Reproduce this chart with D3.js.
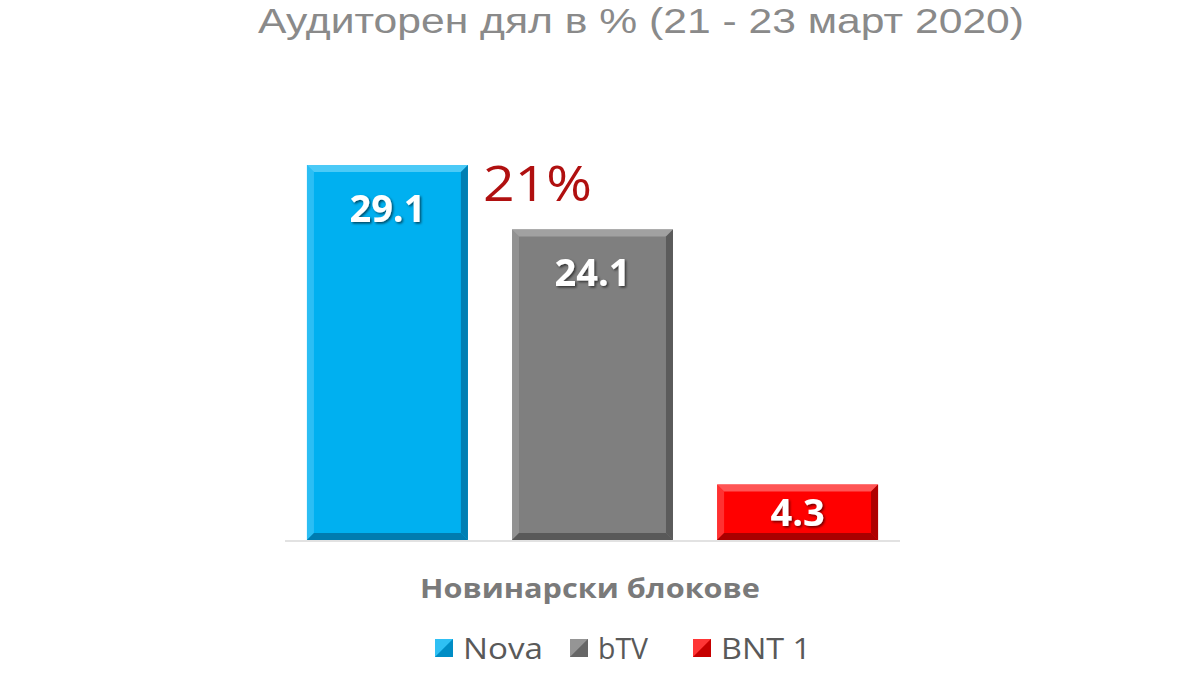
<!DOCTYPE html>
<html><head><meta charset="utf-8">
<script src="https://cdn.jsdelivr.net/npm/d3@7"></script>
<style>html,body{margin:0;padding:0;background:#fff;}svg{display:block;}</style>
</head><body>
<svg id="c" width="1200" height="675"></svg>
<script>
const categories = ["Nova", "bTV", "BNT 1"];
const values = [29.1, 24.1, 4.3];
const valueLabels = ["29.1", "24.1", "4.3"];
const colors = ["#00b0f0", "#7f7f7f", "#ff0000"];
const lightColors = ["#4fcbf7", "#a3a3a3", "#ff5a5a"];
const darkColors = ["#0077a8", "#555555", "#a00000"];
const title = "Аудиторен дял в % (21 - 23 март 2020)";
const categoryLabel = "Новинарски  блокове";
const note = "21%";

const svg = d3.select("#c");
const baseY = 540;
const x = d3.scaleBand().domain(categories).range([285, 900]).paddingInner(0.215).paddingOuter(0.107);
const y = d3.scaleLinear().domain([0, 29.1]).range([baseY, 165]);

svg.append("text").attr("x", 641).attr("y", 33).attr("text-anchor", "middle")
  .attr("font-family", "Liberation Sans").attr("font-size", 35).attr("fill", "#8a8a8a")
  .attr("textLength", 766).attr("lengthAdjust", "spacingAndGlyphs").text(title);

svg.append("line").attr("x1", 285).attr("x2", 900).attr("y1", baseY + 1).attr("y2", baseY + 1)
  .attr("stroke", "#d9d9d9").attr("stroke-width", 1.5);

const defs = svg.append("defs");
const f = defs.append("filter").attr("id", "sh").attr("x", "-20%").attr("y", "-20%").attr("width", "140%").attr("height", "140%");
f.append("feDropShadow").attr("dx", 1.5).attr("dy", 1.5).attr("stdDeviation", 1).attr("flood-color", "#000").attr("flood-opacity", 0.6);

const b = 7;
categories.forEach((c, i) => {
  const x0 = x(c), w = x.bandwidth(), y0 = y(values[i]), h = baseY - y0;
  const g = svg.append("g");
  g.append("rect").attr("x", x0).attr("y", y0).attr("width", w).attr("height", h).attr("fill", colors[i]);
  const x1 = x0 + w, y1 = baseY;
  const poly = (pts, fill, op) => g.append("polygon").attr("points", pts.map(p => p.join(",")).join(" ")).attr("fill", fill).attr("opacity", op);
  poly([[x0, y0], [x1, y0], [x1 - b, y0 + b], [x0 + b, y0 + b]], lightColors[i], 0.95);
  poly([[x0, y0], [x0 + b, y0 + b], [x0 + b, y1 - b], [x0, y1]], lightColors[i], 0.55);
  poly([[x1, y0], [x1, y1], [x1 - b, y1 - b], [x1 - b, y0 + b]], darkColors[i], 0.85);
  poly([[x0, y1], [x1, y1], [x1 - b, y1 - b], [x0 + b, y1 - b]], darkColors[i], 0.9);
  const ly = Math.min(y0 + 57, (y0 + y1) / 2 + 14);
  g.append("text").attr("x", x0 + w / 2).attr("y", ly).attr("text-anchor", "middle")
    .attr("font-family", "Open Sans").attr("font-weight", "bold").attr("font-size", 38)
    .attr("fill", "#ffffff").attr("filter", "url(#sh)").text(valueLabels[i]);
});

svg.append("text").attr("x", 483).attr("y", 201).attr("font-family", "Open Sans")
  .attr("font-size", 50).attr("fill", "#b01010").attr("textLength", 109).attr("lengthAdjust", "spacingAndGlyphs").text(note);

svg.append("text").attr("x", 590).attr("y", 598).attr("text-anchor", "middle")
  .attr("font-family", "Open Sans").attr("font-weight", "bold").attr("font-size", 27)
  .attr("fill", "#7a7a7a").attr("textLength", 340).attr("lengthAdjust", "spacingAndGlyphs").text(categoryLabel);

const legX = [435, 570, 693];
const legW = [80, 50, 90];
categories.forEach((c, i) => {
  const lg = svg.append("g").attr("transform", `translate(${legX[i]},648)`);
  lg.append("rect").attr("x", 0).attr("y", -9).attr("width", 18).attr("height", 18).attr("fill", colors[i]);
  lg.append("polygon").attr("points", "0,-9 18,-9 0,9").attr("fill", lightColors[i]).attr("opacity", 0.6);
  lg.append("polygon").attr("points", "18,-9 18,9 0,9").attr("fill", darkColors[i]).attr("opacity", 0.6);
  lg.append("text").attr("x", 28).attr("y", 11).attr("font-family", "Open Sans").attr("font-size", 30)
    .attr("fill", "#595959").attr("textLength", legW[i]).attr("lengthAdjust", "spacingAndGlyphs").text(c);
});
</script>
</body></html>
